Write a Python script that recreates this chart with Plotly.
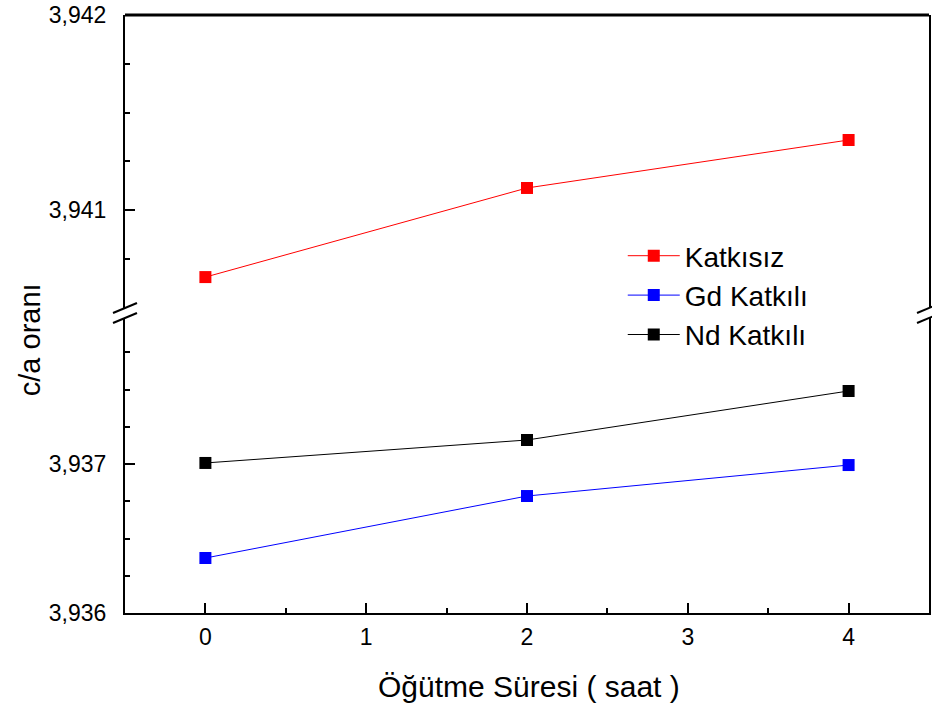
import plotly.graph_objects as go

# Data
sure = [0, 2, 4]
katkisiz = [3.940656, 3.941113, 3.941359]
gd_katkili = [3.936369, 3.936785, 3.936993]
nd_katkili = [3.937007, 3.937161, 3.937490]

series_names = ["Katkısız", "Gd Katkılı", "Nd Katkılı"]
colors = ["#FF0000", "#0000FF", "#000000"]

FONT = "Liberation Sans, Arial, sans-serif"

fig = go.Figure()
fig.add_trace(go.Scatter(x=sure, y=katkisiz, name=series_names[0], mode="lines+markers",
                         line=dict(color=colors[0], width=1),
                         marker=dict(symbol="square", size=12, color=colors[0]),
                         yaxis="y2"))
fig.add_trace(go.Scatter(x=sure, y=gd_katkili, name=series_names[1], mode="lines+markers",
                         line=dict(color=colors[1], width=1),
                         marker=dict(symbol="square", size=12, color=colors[1]),
                         yaxis="y"))
fig.add_trace(go.Scatter(x=sure, y=nd_katkili, name=series_names[2], mode="lines+markers",
                         line=dict(color=colors[2], width=1),
                         marker=dict(symbol="square", size=12, color=colors[2]),
                         yaxis="y"))

W, H = 932, 704
L, R, T, B = 125, 1, 15, 91
pw = W - L - R
ph = H - T - B

def py(p):
    return (H - B - p) / ph

def px(p):
    return (p - L) / pw

lower_top_px = 318
upper_bot_px = 308

def minor(d):
    return dict(ticks="inside", ticklen=5, tickwidth=2, tickcolor="black", dtick=d, showgrid=False)

axis_common = dict(showline=True, linecolor="black", linewidth=2,
                   ticks="inside", ticklen=10, tickwidth=2, tickcolor="black",
                   showgrid=False, zeroline=False,
                   tickfont=dict(family=FONT, size=23, color="black"))

fig.update_layout(
    width=W, height=H,
    margin=dict(l=L, r=R, t=T, b=B),
    plot_bgcolor="white", paper_bgcolor="white",
    separators=",.",
    font=dict(family=FONT, size=23, color="black"),
    showlegend=True,
    legend=dict(x=px(624), y=py(231), xanchor="left", yanchor="top",
                font=dict(family=FONT, size=28, color="black"),
                itemwidth=52,
                bgcolor="rgba(0,0,0,0)", traceorder="normal"),
    xaxis=dict(range=[-0.5, 4.5], dtick=1, tick0=0, anchor="y", mirror=False,
               ticklabelstandoff=2, minor=minor(0.5), **axis_common),
    yaxis=dict(domain=[0, py(lower_top_px)], range=[3.936, 3.936 + (H - B - lower_top_px) / 149 * 0.001],
               dtick=0.001, tick0=3.936, tickformat=".3f", anchor="x", mirror=True,
               ticklabelstandoff=12, minor=minor(0.00025), **axis_common),
    yaxis2=dict(domain=[py(upper_bot_px), 1], range=[3.942 - (upper_bot_px - T) / 195 * 0.001, 3.9420001],
                dtick=0.001, tick0=3.936, tickformat=".3f", anchor="x", mirror=True,
                ticklabelstandoff=12, minor=minor(0.00025), **axis_common),
)

# top border line
fig.add_shape(type="line", xref="paper", yref="paper", x0=0, x1=1, y0=1, y1=1,
              line=dict(color="black", width=3))

# axis break marks
for xc in (0, 1):
    for (y_a, y_b) in ((313, 303), (323, 313)):
        fig.add_shape(type="line", xref="paper", yref="paper",
                      x0=xc - 12 / pw, x1=xc + 12 / pw, y0=py(y_a), y1=py(y_b),
                      line=dict(color="black", width=2))

# axis titles
fig.add_annotation(text="c/a oranı", xref="paper", yref="paper",
                   x=px(30), y=py(340), textangle=-90, showarrow=False,
                   font=dict(family=FONT, size=29, color="black"),
                   xanchor="center", yanchor="middle")
fig.add_annotation(text="Öğütme Süresi ( saat )", xref="paper", yref="paper",
                   x=px(530), y=py(686), showarrow=False,
                   font=dict(family=FONT, size=30, color="black"),
                   xanchor="center", yanchor="middle")

fig.write_html("out.html", config={"displayModeBar": False},
               post_script="document.body.style.margin='0px';document.body.style.overflow='hidden';")
